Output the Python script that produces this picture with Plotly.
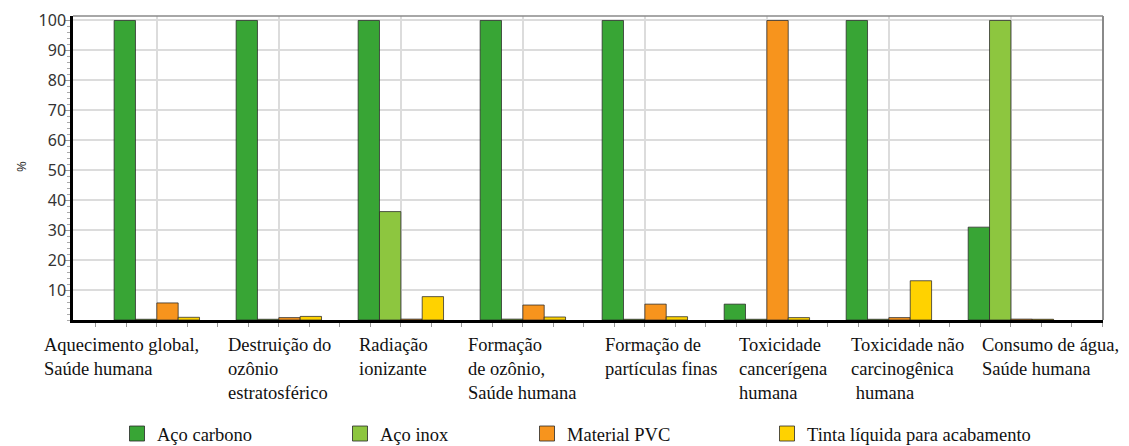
import numpy as np
import plotly.graph_objects as go

# categories (impact categories) and series values in %
categories = [
    "Aquecimento global,<br>Saúde humana",
    "Destruição do<br>ozônio<br>estratosférico",
    "Radiação<br>ionizante",
    "Formação<br>de ozônio,<br>Saúde humana",
    "Formação de<br>partículas finas",
    "Toxicidade<br>cancerígena<br>humana",
    "Toxicidade não<br>carcinogênica<br>\u00a0humana",
    "Consumo de água,<br>Saúde humana",
]
aco_carbono = [100, 100, 100, 100, 100, 5.3, 100, 31]
aco_inox = [0.25, 0.25, 36.2, 0.3, 0.25, 0.25, 0.25, 100]
material_pvc = [5.7, 0.8, 0.3, 5.0, 5.3, 100, 0.8, 0.3]
tinta_liquida = [0.9, 1.2, 7.8, 1.0, 1.1, 0.8, 13.1, 0.25]
y_ticks = [10, 20, 30, 40, 50, 60, 70, 80, 90, 100]

series_names = ["Aço carbono", "Aço inox", "Material PVC", "Tinta líquida para acabamento"]
series_values = [aco_carbono, aco_inox, material_pvc, tinta_liquida]
colors = ["#38A535", "#8DC63F", "#F7941D", "#FFD200"]

# layout (pixels of the 1129x446 picture)
W, H = 1129, 446
PLOT_L, PLOT_R, PLOT_T, PLOT_B = 73, 1103, 16, 320
LABEL_X_PX = [42, 226, 357, 466, 603, 737, 849, 980]
LABEL_TOP_PX = 333
LEGEND_X_PX = [117, 340, 527, 767]
LEGEND_Y_PX = 434


def px_x(px):
    return (px - PLOT_L) / (PLOT_R - PLOT_L)


def px_y(px):
    return (PLOT_B - px) / (PLOT_B - PLOT_T)


x_idx = np.arange(len(categories))
serif = "Liberation Serif, Times New Roman, serif"

fig = go.Figure()

legend_ids = ["legend", "legend2", "legend3", "legend4"]
for name, vals, col, lid in zip(series_names, series_values, colors, legend_ids):
    fig.add_trace(go.Bar(
        x=x_idx,
        y=vals,
        name=name,
        marker=dict(color=col, line=dict(color="rgba(40,40,40,0.75)", width=1)),
        showlegend=False,
    ))
    # legend swatch, one legend per item so each sits where the reference has it
    fig.add_trace(go.Scatter(
        x=[None], y=[None],
        mode="markers",
        name=name,
        legend=lid,
        marker=dict(symbol="square", size=15, color=col,
                    line=dict(color="rgba(40,40,40,0.8)", width=1)),
    ))

# category labels below the axis
for lbl, lx in zip(categories, LABEL_X_PX):
    fig.add_annotation(
        x=px_x(lx), y=px_y(LABEL_TOP_PX),
        xref="paper", yref="paper",
        xanchor="left", yanchor="top",
        text=lbl, align="left", showarrow=False,
        font=dict(family=serif, size=18.5, color="#111"),
    )

# y axis title
fig.add_annotation(
    x=px_x(10), y=px_y(167), xref="paper", yref="paper",
    text="%", textangle=-90, showarrow=False,
    font=dict(family="Noto Sans, sans-serif", size=13, color="#333"),
)

# grey frame on top and right
fig.add_shape(type="line", xref="paper", yref="paper", x0=0, x1=1, y0=1, y1=1,
              line=dict(color="#8a8a8a", width=1.5))
fig.add_shape(type="line", xref="paper", yref="paper", x0=1, x1=1, y0=0, y1=1,
              line=dict(color="#8a8a8a", width=2))

legend_style = dict(
    orientation="h",
    xanchor="left", yanchor="middle",
    font=dict(family=serif, size=18.5, color="#111"),
    itemsizing="trace",
    bgcolor="rgba(0,0,0,0)",
    borderwidth=0,
)
legends = {
    lid: dict(legend_style, x=px_x(lx), y=px_y(LEGEND_Y_PX))
    for lid, lx in zip(legend_ids, LEGEND_X_PX)
}

fig.update_layout(
    width=W, height=H,
    margin=dict(l=PLOT_L, r=W - PLOT_R, t=PLOT_T, b=H - PLOT_B, autoexpand=False),
    plot_bgcolor="white",
    paper_bgcolor="white",
    barmode="group",
    bargap=0.3,
    bargroupgap=0,
    xaxis=dict(
        range=[-0.687, 7.755],
        tickmode="array", tickvals=list(x_idx),
        showticklabels=False,
        ticks="outside", ticklen=4, tickcolor="#999",
        showgrid=True, gridcolor="#dcdcdc", gridwidth=1.5,
        minor=dict(dtick=0.25, tick0=0, ticks="outside", ticklen=4, tickcolor="#999", showgrid=False),
        showline=True, linecolor="black", linewidth=2.5,
        zeroline=False,
    ),
    yaxis=dict(
        range=[0, 101.5],
        tickmode="array", tickvals=y_ticks,
        ticks="outside", ticklen=5, tickcolor="#999",
        ticklabelstandoff=-4,
        tickfont=dict(family="Noto Sans, sans-serif", size=16, color="#333"),
        showgrid=True, gridcolor="#dcdcdc", gridwidth=1.5,
        minor=dict(dtick=2, tick0=0, ticks="outside", ticklen=3, tickcolor="#aaa", showgrid=False),
        showline=True, linecolor="black", linewidth=2.5,
        zeroline=False,
    ),
    **legends,
)

fig.write_html("out.html", config={"displayModeBar": False},
               post_script="document.body.style.margin='0';")
